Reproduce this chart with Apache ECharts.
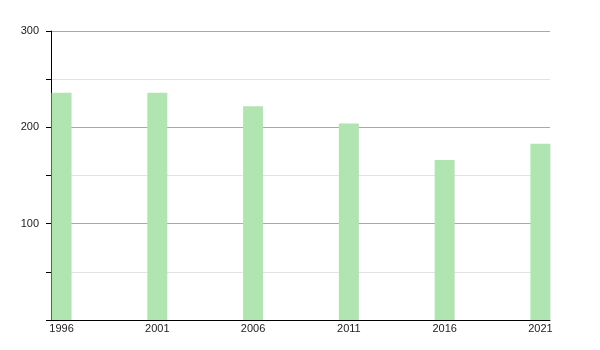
<!DOCTYPE html>
<html><head><meta charset="utf-8">
<script src="https://cdn.jsdelivr.net/npm/echarts@6/dist/echarts.min.js"></script>
<style>html,body{margin:0;padding:0;background:#fff}#c{width:600px;height:350px}</style>
</head><body><div id="c"></div>
<script>
var years = [1996, 2001, 2006, 2011, 2016, 2021];
var values = [236, 236, 222, 204, 166, 183];
var yTicks = [100, 200, 300];

var chart = echarts.init(document.getElementById('c'), null, {renderer: 'canvas'});
chart.setOption({
  animation: false,
  grid: {left: 51, right: 50, top: 31, bottom: 30, containLabel: false},
  xAxis: {
    type: 'value', min: 1995.45, max: 2021.5,
    axisLine: {show: true, onZero: false, lineStyle: {color: '#000', width: 1}},
    axisTick: {show: false},
    splitLine: {show: false},
    axisLabel: {customValues: years, color: '#222', fontSize: 11, fontFamily: 'Liberation Sans, Arial', margin: 3,
      formatter: function (v) { return String(v); }}
  },
  yAxis: {
    type: 'value', min: 0, max: 300, interval: 50,
    axisLine: {show: true, lineStyle: {color: '#000', width: 1}},
    axisTick: {show: true, length: 5, lineStyle: {color: '#000'}},
    splitLine: {show: true, lineStyle: {color: ['#aaaaaa', '#e2e2e2'], width: 1}},
    axisLabel: {color: '#222', fontSize: 11, fontFamily: 'Liberation Sans, Arial', margin: 12,
      formatter: function (v) { return yTicks.indexOf(v) >= 0 ? String(v) : ''; }}
  },
  series: [{
    type: 'bar',
    barWidth: 20,
    itemStyle: {color: '#b0e4b0'},
    data: years.map(function (y, i) { return [y, values[i]]; })
  }]
});
</script></body></html>
